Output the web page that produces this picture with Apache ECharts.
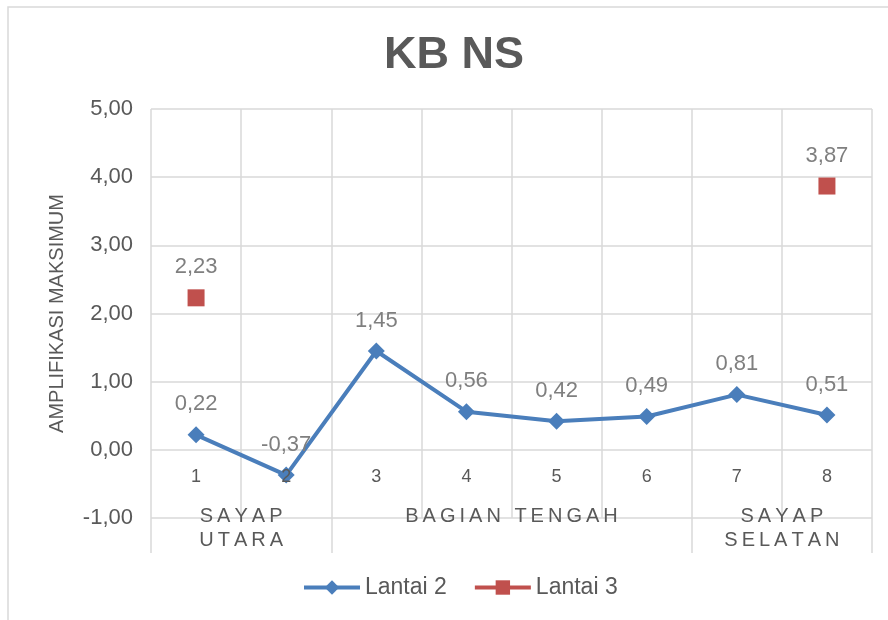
<!DOCTYPE html>
<html>
<head>
<meta charset="utf-8">
<style>
  html, body { margin: 0; padding: 0; background: #fff; }
  #chart { width: 888px; height: 620px; }
</style>
<script src="https://cdn.jsdelivr.net/npm/echarts@6/dist/echarts.min.js"></script>
</head>
<body>
<div id="chart"></div>
<script>
// data
var categories = ['1', '2', '3', '4', '5', '6', '7', '8'];
var lantai2 = [0.22, -0.37, 1.45, 0.56, 0.42, 0.49, 0.81, 0.51];
var lantai3 = [2.23, null, null, null, null, null, null, 3.87];
// group labels sit under the category axis (centre value on a 0..8 scale)
var groupCenters = [1, 4, 7];
var groupNames = ['SAYAP\nUTARA', 'BAGIAN TENGAH', 'SAYAP\nSELATAN'];
var groupEdges = [0, 2, 6, 8];

var FONT = '"Liberation Sans", Arial, sans-serif';
var GRID = '#d9d9d9';
var TEXT = '#595959';

function comma(v) { return Number(v).toFixed(2).replace('.', ','); }
// the group captions are letter-spaced in the original; fake it with thin spaces
function spaced(s) {
    return s.split('\n').map(function (line) { return line.split('').join('\u2009'); }).join('\n');
}

var chart = echarts.init(document.getElementById('chart'));
chart.setOption({
    animation: false,
    textStyle: { fontFamily: FONT },
    graphic: [{
        type: 'rect', silent: true, z: -10,
        shape: { x: 8, y: 7, width: 900, height: 700 },
        style: { fill: 'none', stroke: GRID, lineWidth: 1.5 }
    }],
    title: {
        text: 'KB NS', left: 379, top: 28,
        textStyle: { fontSize: 45, fontWeight: 'bold', color: TEXT, fontFamily: FONT }
    },
    legend: {
        top: 576, left: 302, padding: 0,
        itemWidth: 56, itemHeight: 18, itemGap: 26,
        lineStyle: { width: 4 },
        textStyle: { fontSize: 23, color: TEXT, fontFamily: FONT },
        data: ['Lantai 2', 'Lantai 3']
    },
    grid: { left: 151, right: 16, top: 109, bottom: 102 },
    xAxis: [{
        // vertical grid lines between categories
        type: 'category',
        data: categories,
        boundaryGap: true,
        axisLine: { show: false },
        axisTick: { show: false },
        axisLabel: { show: false },
        splitLine: { show: true, interval: 0, lineStyle: { color: GRID, width: 1.5 } }
    }, {
        // group captions and the longer dividers below the plot
        type: 'value',
        position: 'bottom',
        min: 0, max: 8,
        axisLine: { show: false },
        splitLine: { show: false },
        axisTick: {
            show: true, customValues: groupEdges, length: 35, inside: false,
            lineStyle: { color: GRID, width: 1.5 }
        },
        axisLabel: {
            show: true, customValues: groupCenters,
            margin: -14, fontSize: 20, lineHeight: 24, color: TEXT, fontFamily: FONT,
            formatter: function (v) {
                var i = groupCenters.indexOf(v);
                return i < 0 ? '' : spaced(groupNames[i]);
            }
        }
    }, {
        // category numbers, drawn above the series like in the original
        type: 'category',
        data: categories,
        position: 'bottom',
        z: 10,
        axisLine: { show: false },
        axisTick: { show: false },
        splitLine: { show: false },
        // labels hang just under the zero line (one unit above the grid bottom)
        axisLabel: { fontSize: 18, color: TEXT, margin: -50, fontFamily: FONT }
    }],
    yAxis: {
        type: 'value', min: -1, max: 5, interval: 1,
        name: 'AMPLIFIKASI MAKSIMUM',
        nameLocation: 'middle', nameGap: 84,
        nameTextStyle: { fontSize: 20, color: TEXT, fontFamily: FONT },
        axisLine: { show: false },
        axisTick: { show: false },
        axisLabel: { fontSize: 22, color: TEXT, margin: 18, formatter: comma, fontFamily: FONT },
        splitLine: { show: true, lineStyle: { color: GRID, width: 1.5 } }
    },
    series: [{
        name: 'Lantai 2',
        type: 'line',
        data: lantai2,
        symbol: 'diamond', symbolSize: 17,
        lineStyle: { color: '#4a7ebb', width: 4 },
        itemStyle: { color: '#4a7ebb' },
        label: {
            show: true, position: 'top', distance: 11,
            fontSize: 22, color: '#7f7f7f', fontFamily: FONT,
            formatter: function (p) { return comma(p.value); }
        }
    }, {
        name: 'Lantai 3',
        type: 'line',
        data: lantai3,
        symbol: 'rect', symbolSize: 17,
        lineStyle: { color: '#c0504d', width: 4 },
        itemStyle: { color: '#c0504d' },
        label: {
            show: true, position: 'top', distance: 11,
            fontSize: 22, color: '#7f7f7f', fontFamily: FONT,
            formatter: function (p) { return comma(p.value); }
        }
    }]
});
</script>
</body>
</html>
